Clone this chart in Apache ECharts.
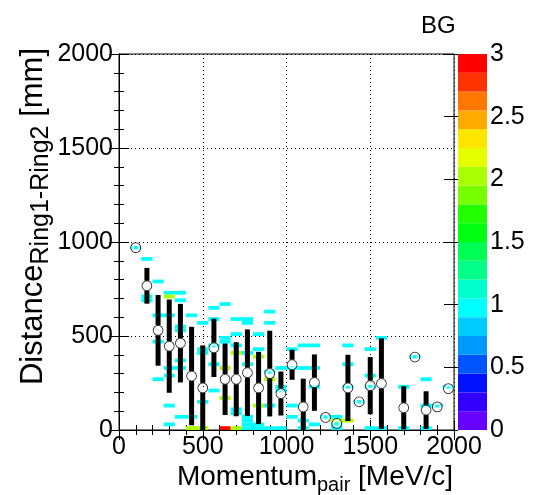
<!DOCTYPE html>
<html><head><meta charset="utf-8">
<script src="https://cdn.jsdelivr.net/npm/echarts/dist/echarts.min.js"></script>
<style>html,body{margin:0;padding:0;background:#fff}#c{width:539px;height:495px}</style>
</head><body><div id="c"></div>
<script>
const FONT = 'Liberation Sans, Arial, Helvetica, sans-serif';
// axis ranges & binning
const X_MIN = 0, X_MAX = 2000, X_BINS = 30;
const Y_MIN = 0, Y_MAX = 2000, Y_BINS = 100;
const Z_MAX = 3, Z_LEVELS = 20;
const xTickStep = 500, yTickStep = 500, zTickStep = 0.5;
// palette, bottom (0) to top (3)
const paletteColors = ['#6600ff','#3300ff','#0011ff','#0055ff','#0099ff','#00ccff','#00ffff','#00ffcc','#00ff88','#00ff55',
  '#00ff11','#22ff00','#77ff00','#aaff00','#e5ff00','#ffe600','#ffaa00','#ff7700','#ff3300','#ff0000'];
// 2D histogram cells: [x bin (1-based), y bin (0-based), entries]
const cells = [
  [2,48,1],
  [3,45,1],[3,35,1],[3,34,1],
  [4,39,1],[4,30,1],[4,23,1],[4,13,1],
  [5,36,1],[5,35,2],[5,30,1],[5,16,1],[5,14,1],[5,6,1],[5,1,1],
  [6,36,1],[6,34,1],[6,27,1],[6,26,1],[6,18,1],[6,16,1],[6,3,1],
  [7,30,1],[7,3,1],[7,0,2],
  [8,28,1],[8,21,1],[8,20,1],[8,7,1],[8,0,2],
  [9,32,1],[9,29,1],[9,22,1],[9,17,1],[9,10,1],
  [10,33,1],[10,24,1],[10,23,1],[10,16,2],[10,8,2],[10,0,3],
  [11,29,1],[11,25,1],[11,22,1],[11,20,2],[11,5,1],[11,4,1],[11,0,2],
  [12,29,1],[12,28,1],[12,20,1],[12,17,1],[12,3,1],[12,2,1],[12,1,1],[12,0,1],
  [13,25,1],[13,21,1],[13,19,2],[13,6,2],[13,1,1],[13,0,1],
  [14,31,1],[14,28,1],[14,15,1],[14,13,2],[14,6,1],[14,0,1],
  [15,16,1],[15,11,1],[15,10,1],[15,0,1],
  [16,21,1],[16,16,1],[16,6,1],[16,3,1],
  [17,22,1],[17,16,1],[17,2,1],[17,0,1],
  [18,22,1],[18,16,1],[18,11,1],[18,1,1],
  [19,3,1],
  [20,3,1],[20,2,2],[20,1,1],[20,0,1],
  [21,22,1],[21,17,1],[21,11,1],[21,2,2],
  [22,7,1],
  [23,21,1],[23,14,1],[23,11,1],[23,0,1],
  [24,24,1],[24,0,1],
  [26,11,1],[26,0,1],
  [27,19,1],
  [28,13,1],[28,6,1],[28,0,1],
  [29,6,1],
  [30,11,1]
];
// profile (mean and spread per x bin)
const profBin  = [2,3,4,5,6,7,8,9,10,11,12,13,14,15,16,17,18,19,20,21,22,23,24,26,27,28,29,30];
const profMean = [970,767,530,446,462,287,224,437,270,270,305,224,300,194,347,123,252,67,35,224,150,236,247,118,388,106,123,220];
const profErr  = [0,95,188,248,209,262,226,155,190,197,230,192,228,117,80,150,150,0,0,176,0,152,241,115,0,100,0,0];

const xw = (X_MAX - X_MIN) / X_BINS, yw = (Y_MAX - Y_MIN) / Y_BINS;
const cellData = cells.map(c => [X_MIN + (c[0]-1)*xw, X_MIN + c[0]*xw, Y_MIN + c[1]*yw, Y_MIN + (c[1]+1)*yw, c[2]]);
const profData = profBin.map((b, i) => [X_MIN + (b-0.5)*xw, profMean[i], profErr[i]]);
const barData = paletteColors.map((col, i) => [i*Z_MAX/Z_LEVELS, (i+1)*Z_MAX/Z_LEVELS, i]);
function colorFor(v){ let k = Math.floor(v / Z_MAX * Z_LEVELS); if (k >= Z_LEVELS) k = Z_LEVELS-1; if (k<0) k=0; return paletteColors[k]; }
const plain = v => String(v);

const chart = echarts.init(document.getElementById('c'), null, {renderer:'canvas'});
const tickCommon = {show:true, inside:true, length:10, lineStyle:{color:'#000', width:1}};
const minorCommon = {show:true, splitNumber:5, length:5, lineStyle:{color:'#000', width:1}};
const labelCommon = {color:'#000', fontSize:25, fontFamily:FONT, formatter:plain};
chart.setOption({
  animation:false,
  backgroundColor:'#fff',
  title:{text:'BG', left:416, top:9, textStyle:{fontSize:24, fontWeight:'normal', color:'#000', fontFamily:FONT}},
  grid:[
    {left:119, top:54, width:335, height:376, show:true, borderColor:'#000', borderWidth:1, backgroundColor:'transparent'},
    {left:458, top:54, width:29, height:376, show:false}
  ],
  xAxis:[
    {type:'value', gridIndex:0, min:X_MIN, max:X_MAX, interval:xTickStep, position:'bottom',
     axisLine:{show:true, lineStyle:{color:'#000'}}, axisTick:tickCommon, minorTick:minorCommon,
     axisLabel:Object.assign({margin:5}, labelCommon),
     splitLine:{show:true, lineStyle:{color:'#000', type:[1,3], width:1}}},
    {type:'value', gridIndex:0, min:X_MIN, max:X_MAX, interval:xTickStep, position:'top',
     axisLine:{show:true, lineStyle:{color:'#000'}}, axisTick:tickCommon, minorTick:minorCommon,
     axisLabel:{show:false}, splitLine:{show:false}},
    {type:'value', gridIndex:1, min:0, max:1, show:false}
  ],
  yAxis:[
    {type:'value', gridIndex:0, min:Y_MIN, max:Y_MAX, interval:yTickStep, position:'left',
     axisLine:{show:true, lineStyle:{color:'#000'}}, axisTick:tickCommon, minorTick:minorCommon,
     axisLabel:Object.assign({margin:6}, labelCommon),
     splitLine:{show:true, lineStyle:{color:'#000', type:[1,3], width:1}}},
    {type:'value', gridIndex:0, min:Y_MIN, max:Y_MAX, interval:yTickStep, position:'right',
     axisLine:{show:true, lineStyle:{color:'#000'}}, axisTick:tickCommon, minorTick:minorCommon,
     axisLabel:{show:false}, splitLine:{show:false}},
    {type:'value', gridIndex:1, min:0, max:Z_MAX, interval:zTickStep, position:'right',
     axisLine:{show:false}, axisTick:{show:true, inside:true, length:14, lineStyle:{color:'#000'}},
     axisLabel:Object.assign({margin:3}, labelCommon), splitLine:{show:false}}
  ],
  series:[
    {type:'custom', xAxisIndex:0, yAxisIndex:0, clip:true, data:cellData, encode:{x:[0,1], y:[2,3]},
     renderItem:function(params, api){
       const p0 = api.coord([api.value(0), api.value(3)]);
       const p1 = api.coord([api.value(1), api.value(2)]);
       return {type:'rect', shape:{x:p0[0], y:p0[1], width:p1[0]-p0[0], height:p1[1]-p0[1]}, style:{fill:colorFor(api.value(4))}};
     }},
    {type:'custom', xAxisIndex:0, yAxisIndex:0, clip:true, data:profData, encode:{x:0, y:1},
     renderItem:function(params, api){
       const x = api.value(0), m = api.value(1), e = api.value(2);
       const c = api.coord([x, m]);
       const t = api.coord([x, m + e]);
       const b = api.coord([x, Math.max(Y_MIN, m - e)]);
       const r = 5, w = 5, kids = [];
       if (t[1] < c[1] - r) kids.push({type:'rect', shape:{x:c[0]-w/2, y:t[1], width:w, height:c[1]-r-t[1]}, style:{fill:'#000'}});
       if (b[1] > c[1] + r) kids.push({type:'rect', shape:{x:c[0]-w/2, y:c[1]+r, width:w, height:b[1]-c[1]-r}, style:{fill:'#000'}});
       return {type:'group', children:kids};
     }},
    {type:'scatter', xAxisIndex:0, yAxisIndex:0, data:profData.map(d=>[d[0],d[1]]), symbol:'circle', symbolSize:9.6,
     itemStyle:{color:'rgba(0,0,0,0)', borderColor:'#000', borderWidth:1.1}, silent:true},
    {type:'scatter', xAxisIndex:0, yAxisIndex:0, data:profData.map(d=>[d[0],d[1]]), symbol:'circle', symbolSize:6.6,
     itemStyle:{color:'rgba(0,0,0,0)', borderColor:'#fff', borderWidth:2.2}, silent:true},
    {type:'custom', xAxisIndex:2, yAxisIndex:2, data:barData, encode:{y:[0,1]},
     renderItem:function(params, api){
       const p0 = api.coord([0, api.value(1)]);
       const p1 = api.coord([1, api.value(0)]);
       return {type:'rect', shape:{x:p0[0], y:p0[1], width:p1[0]-p0[0], height:p1[1]-p0[1]}, style:{fill:paletteColors[api.value(2)]}};
     }}
  ],
  graphic:[
    {type:'text', x:453, y:477, silent:true, style:{text:'{a|Momentum}{b|pair}{a| [MeV/c]}', align:'right', verticalAlign:'middle',
      rich:{a:{fontSize:28, fontFamily:FONT, fill:'#000', verticalAlign:'middle'}, b:{fontSize:20, fontFamily:FONT, fill:'#000', padding:[16,0,0,0], verticalAlign:'middle'}}}},
    {type:'text', x:33, y:48, rotation:Math.PI/2, silent:true, style:{text:'{a|Distance}{b|Ring1-Ring2}{a| [mm]}', align:'right', verticalAlign:'middle',
      rich:{a:{fontSize:31, fontFamily:FONT, fill:'#000', verticalAlign:'middle'}, b:{fontSize:25, fontFamily:FONT, fill:'#000', padding:[16,0,0,0], verticalAlign:'middle'}}}}
  ]
});
</script></body></html>
